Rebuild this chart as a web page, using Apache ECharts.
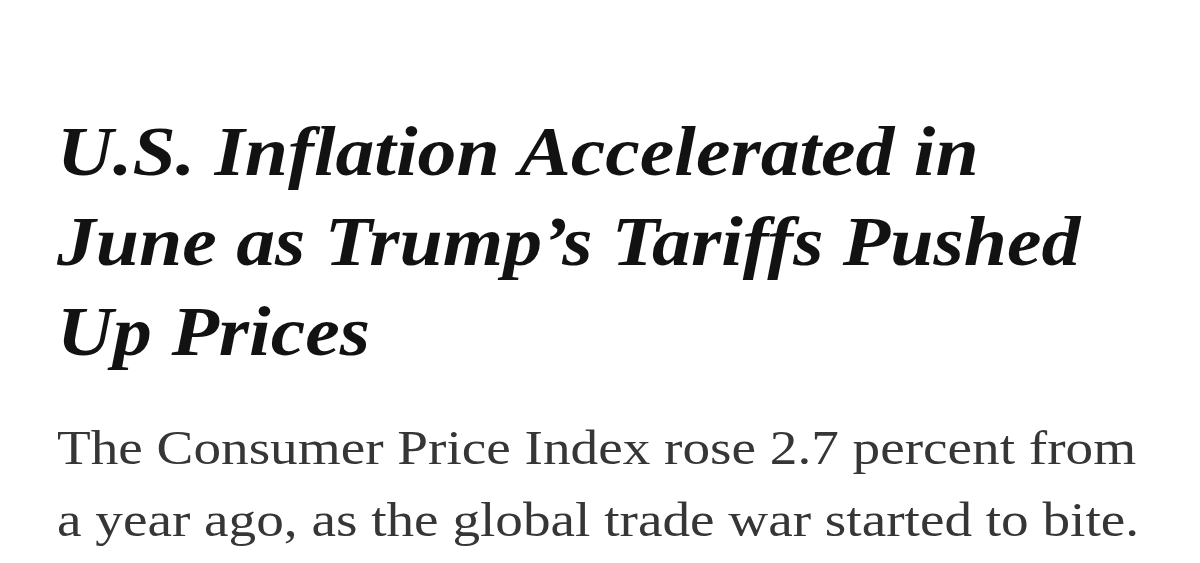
<!DOCTYPE html>
<html><head><meta charset="utf-8">
<script src="https://cdn.jsdelivr.net/npm/echarts@6/dist/echarts.min.js"></script>
<style>html,body{margin:0;padding:0;background:#fff}#c{width:1200px;height:563px}</style>
</head><body><div id="c"></div>
<script>
const headlineLines = ["U.S. Inflation Accelerated in", "June as Trump\u2019s Tariffs Pushed", "Up Prices"];
const subheadLines = ["The Consumer Price Index rose 2.7 percent from", "a year ago, as the global trade war started to bite."];
const chart = echarts.init(document.getElementById('c'));
const els = [];
headlineLines.forEach((t, i) => els.push({
  type: 'text', x: 57, y: 122 + i * 90, scaleX: 1.11, originX: 0, originY: 0,
  style: { text: t, font: 'italic bold 70px "Liberation Serif", "DejaVu Serif", serif', fill: '#121212', textVerticalAlign: 'alphabetic', verticalAlign: 'alphabetic' }
}));
subheadLines.forEach((t, i) => els.push({
  type: 'text', x: 57, y: 427 + i * 72, scaleX: 1.15, originX: 0, originY: 0,
  style: { text: t, font: '48px "Liberation Serif", "DejaVu Serif", serif', fill: '#363636', textVerticalAlign: 'alphabetic', verticalAlign: 'alphabetic' }
}));
chart.setOption({ backgroundColor: '#fff', graphic: { elements: els } });
</script></body></html>
